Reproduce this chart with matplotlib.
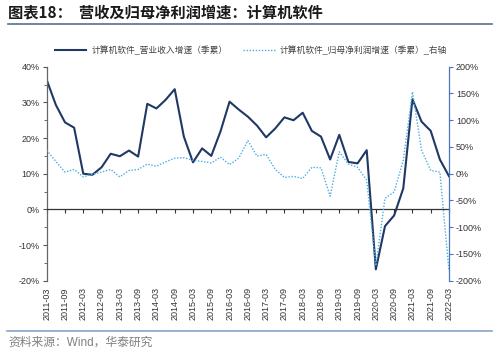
import matplotlib
matplotlib.use("Agg")
import matplotlib.pyplot as plt
from matplotlib.ticker import MultipleLocator, FuncFormatter
from matplotlib.lines import Line2D

plt.rcParams['font.family'] = ['Liberation Sans', 'Noto Sans CJK SC', 'DejaVu Sans']

# --- data ---
quarters = ["2011-03", "2011-06", "2011-09", "2011-12", "2012-03", "2012-06", "2012-09", "2012-12",
            "2013-03", "2013-06", "2013-09", "2013-12", "2014-03", "2014-06", "2014-09", "2014-12",
            "2015-03", "2015-06", "2015-09", "2015-12", "2016-03", "2016-06", "2016-09", "2016-12",
            "2017-03", "2017-06", "2017-09", "2017-12", "2018-03", "2018-06", "2018-09", "2018-12",
            "2019-03", "2019-06", "2019-09", "2019-12", "2020-03", "2020-06", "2020-09", "2020-12",
            "2021-03", "2021-06", "2021-09", "2021-12", "2022-03"]

# revenue growth, left axis (%)
revenue = [36.3, 29.3, 24.4, 22.9, 10.0, 9.7, 11.8, 15.6, 14.9, 16.5, 14.8, 29.6,
           28.3, 30.7, 33.7, 20.4, 13.2, 17.1, 15.0, 21.8, 30.2, 28.0, 26.0, 23.5,
           20.2, 22.7, 25.8, 25.0, 27.1, 22.0, 20.4, 14.0, 20.9, 13.3, 12.9, 16.6,
           -16.8, -4.7, -1.7, 5.9, 30.9, 24.6, 22.0, 14.0, 9.3]

# net profit growth, right axis (%)
profit = [44, 23, 3, 8, -6, -1, 3, 8, -6, 6, 8, 18,
          14, 22, 29, 30, 25, 23, 20, 31, 17, 29, 62, 33,
          36, 8, -7, -5, -9, 12, 11, -42, 41, 18, 12, -12,
          -172, -46, -34, 25, 153, 44, 6, 3, -182]

rev_label = "计算机软件_营业收入增速（季累）"
prof_label = "计算机软件_归母净利润增速（季累）_右轴"
title = "图表18：  营收及归母净利润增速：计算机软件"
source = "资料来源：Wind，华泰研究"

navy = "#1f3864"
light = "#4aaee2"
txt = "#333333"

fig = plt.figure(figsize=(5.0, 3.57), dpi=100)
ax = fig.add_axes([0.0934, 0.2137, 0.8046, 0.5994])
ax2 = ax.twinx()

x = list(range(len(quarters)))
ax.plot(x, revenue, color=navy, lw=1.5)
ax2.plot(x, profit, color=light, lw=1.0, ls=(0, (1, 1.2)))

# x axis sits on the 0% line (set first: moving a spine resets its ticks)
ax.spines['bottom'].set_position(('data', 0))
ax.spines['bottom'].set_color("#333333")
ax.spines['bottom'].set_linewidth(0.9)
for s in ['top', 'right']:
    ax.spines[s].set_visible(False)
ax.spines['left'].set_color("#666666")
ax.spines['left'].set_linewidth(0.9)

# left axis
ax.set_xlim(0, len(quarters) - 1)
ax.set_ylim(-20, 40)
ax.yaxis.set_major_locator(MultipleLocator(10))
ax.yaxis.set_minor_locator(MultipleLocator(5))
ax.yaxis.set_major_formatter(FuncFormatter(lambda v, p: f"{v:.0f}%"))
ax.tick_params(axis='y', which='major', direction='out', length=3, width=0.8,
               colors="#555555", labelcolor=txt, labelsize=6.5, pad=2)
ax.tick_params(axis='y', which='minor', direction='out', length=2, width=0.6, colors="#555555")

# x ticks every half year, labels pushed below the plot
ax.set_xticks(x[::2])
ax.set_xticklabels(quarters[::2])
ax.tick_params(axis='x', direction='out', length=3, width=0.8, colors="#333333",
               labelcolor=txt, labelsize=6.5, pad=53, labelrotation=90)

# right axis
ax2.set_ylim(-200, 200)
ax2.yaxis.set_major_locator(MultipleLocator(50))
ax2.yaxis.set_major_formatter(FuncFormatter(lambda v, p: f"{v:.0f}%"))
ax2.tick_params(axis='y', direction='out', length=3, width=0.8, colors="#4a76b8",
                labelcolor=txt, labelsize=6.5, pad=2)
for s in ['top', 'left', 'bottom']:
    ax2.spines[s].set_visible(False)
ax2.spines['right'].set_color("#4a76b8")
ax2.spines['right'].set_linewidth(0.9)

# legend
handles = [Line2D([], [], color=navy, lw=1.5),
           Line2D([], [], color=light, lw=1.0, ls=(0, (1, 1.2)))]
fig.legend(handles, [rev_label, prof_label], loc='center', bbox_to_anchor=(0.502, 0.86),
           ncol=2, frameon=False, fontsize=6.3, handlelength=3.6, columnspacing=1.8,
           handletextpad=0.6, labelcolor="#404040")

# title, rules and source
fig.text(0.016, 0.965, title, fontsize=11, fontweight='bold', color="#1a1a1a",
         family=['Noto Sans CJK SC', 'DejaVu Sans'], va='center', ha='left')
fig.add_artist(Line2D([0.016, 0.984], [0.934, 0.934], color="#5a6e8c", lw=1.2))
fig.add_artist(Line2D([0.014, 0.984], [0.073, 0.073], color="#8aa4c8", lw=1.2))
fig.text(0.016, 0.039, source, fontsize=8.5, color="#808080", va='center', ha='left')

fig.savefig("out.png", dpi=100)
